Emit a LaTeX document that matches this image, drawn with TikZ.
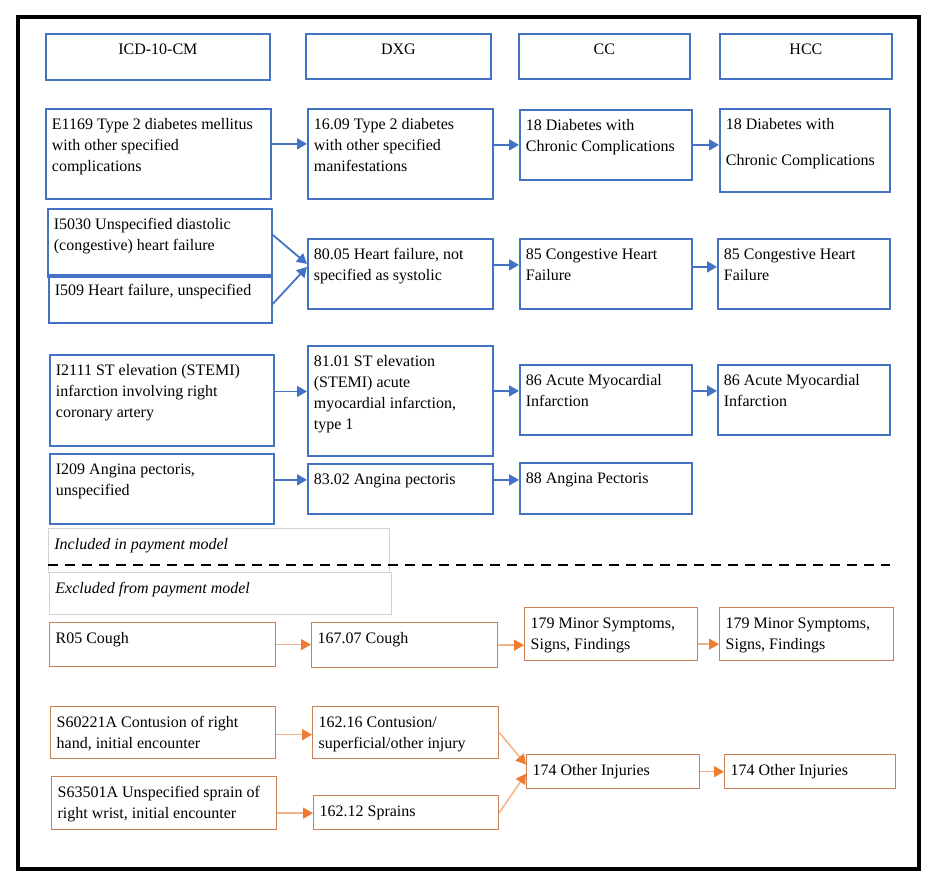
\documentclass[tikz,border=0pt]{standalone}
\usepackage{fontspec}
\setmainfont{Liberation Serif}
\usetikzlibrary{arrows.meta}
\definecolor{cblue}{RGB}{68,114,196}
\definecolor{cbrown}{RGB}{200,128,84}
\definecolor{corange}{RGB}{237,125,49}
\definecolor{clight}{RGB}{244,177,131}
\definecolor{cgray}{RGB}{210,210,210}
\tikzset{
  bbox/.style={draw=cblue,line width=1.8pt},
  obox/.style={draw=cbrown,line width=1.3pt},
  gbox/.style={draw=cgray,line width=0.8pt},
  barrow/.style={cblue,line width=1.8pt,-{Triangle[length=10pt,width=11pt]}},
  oarrow/.style={clight,line width=1.5pt,-{Triangle[length=10pt,width=11pt,color=corange]}}
}
% box: style, name, x, y, width, height, text
\newcommand\cbox[7]{%
  \node[#1,anchor=north west,inner xsep=6pt,inner ysep=6pt] (#2) at (#3,#4)
    {\parbox[c][\dimexpr#6pt-12pt\relax][t]{\dimexpr#5pt-12pt\relax}{\raggedright\strut #7}};}
\begin{document}
\begin{tikzpicture}[x=1pt,y=-1pt,font=\fontsize{16}{21}\selectfont]
  \useasboundingbox (0,0) rectangle (936,886);
  \draw[line width=4pt] (18,17) rectangle (919,869);
  % headers
  \cbox{bbox}{hicd}{45}{33}{224}{46}{\centering ICD-10-CM}
  \cbox{bbox}{hdxg}{305}{33}{185}{45}{\centering DXG}
  \cbox{bbox}{hcc}{518}{33}{171}{45}{\centering CC}
  \cbox{bbox}{hhcc}{719}{33}{172}{45}{\centering HCC}
  % diabetes
  \cbox{bbox}{icda}{45}{108}{225}{90}{E1169 Type 2 diabetes mellitus\\ with other specified\\ complications}
  \cbox{bbox}{dxa}{307}{108}{185}{90}{16.09 Type 2 diabetes\\ with other specified\\ manifestations}
  \cbox{bbox}{cca}{519}{109}{172}{70}{18 Diabetes with\\ Chronic Complications}
  \cbox{bbox}{hcca}{719}{108}{170}{83}{18 Diabetes with\\[15pt] Chronic Complications}
  % heart failure
  \cbox{bbox}{icdb}{47}{208}{224}{68}{I5030 Unspecified diastolic\\ (congestive) heart failure}
  \cbox{bbox}{icdc}{48}{274}{223}{48}{I509 Heart failure, unspecified}
  \cbox{bbox}{dxb}{307}{238}{185}{70}{80.05 Heart failure, not\\ specified as systolic}
  \cbox{bbox}{ccb}{519}{238}{172}{70}{85 Congestive Heart\\ Failure}
  \cbox{bbox}{hccb}{717}{238}{172}{70}{85 Congestive Heart\\ Failure}
  % myocardial infarction
  \cbox{bbox}{icdd}{49}{354}{224}{91}{I2111 ST elevation (STEMI)\\ infarction involving right\\ coronary artery}
  \cbox{bbox}{dxc}{307}{345}{185}{110}{81.01 ST elevation\\ (STEMI) acute\\ myocardial infarction,\\ type 1}
  \cbox{bbox}{ccc}{519}{364}{172}{70}{86 Acute Myocardial\\ Infarction}
  \cbox{bbox}{hccc}{717}{364}{172}{70}{86 Acute Myocardial\\ Infarction}
  % angina
  \cbox{bbox}{icde}{49}{453}{224}{70}{I209 Angina pectoris,\\ unspecified}
  \cbox{bbox}{dxd}{307}{463}{185}{50}{83.02 Angina pectoris}
  \cbox{bbox}{ccd}{519}{462}{172}{51}{88 Angina Pectoris}
  % legend
  \cbox{gbox}{incl}{48}{528}{341}{44}{\itshape Included in payment model}
  \cbox{gbox}{excl}{49}{572}{342}{42}{\itshape Excluded from payment model}
  \coordinate (sepl) at (48,565);
  \coordinate (sepr) at (890,565);
  \draw[line width=2pt,dash pattern=on 10pt off 7pt] (sepl) -- (sepr);
  % cough
  \cbox{obox}{icdf}{49}{622}{226}{44}{R05 Cough}
  \cbox{obox}{dxe}{311}{622}{186}{45}{167.07 Cough}
  \cbox{obox}{cce}{524}{607}{173}{53}{179 Minor Symptoms,\\ Signs, Findings}
  \cbox{obox}{hcce}{719}{607}{174}{53}{179 Minor Symptoms,\\ Signs, Findings}
  % injuries
  \cbox{obox}{icdg}{50}{706}{225}{52}{S60221A Contusion of right\\ hand, initial encounter}
  \cbox{obox}{dxf}{312}{706}{186}{52}{162.16 Contusion/\\ superficial/other injury}
  \cbox{obox}{icdh}{51}{776}{225}{53}{S63501A Unspecified sprain of\\ right wrist, initial encounter}
  \cbox{obox}{dxg}{313}{795}{185}{34}{162.12 Sprains}
  \cbox{obox}{ccf}{526}{754}{173}{34}{174 Other Injuries}
  \cbox{obox}{hccf}{724}{754}{171}{34}{174 Other Injuries}
  % blue connectors
  \draw[barrow] ([yshift=10pt]icda.east) -- ([yshift=10pt]icda.east -| dxa.west);
  \draw[barrow] (dxa.east |- cca.west) -- (cca.west);
  \draw[barrow] (cca.east) -- (cca.east -| hcca.west);
  \draw[barrow] ([yshift=8pt]icdb.east) -- ([yshift=10pt]dxb.west);
  \draw[barrow] ([yshift=-5pt]icdc.east) -- ([yshift=7pt]dxb.west);
  \draw[barrow] ([yshift=9pt]dxb.east) -- ([yshift=9pt]ccb.west);
  \draw[barrow] ([yshift=7pt]ccb.east) -- ([yshift=7pt]hccb.west);
  \draw[barrow] ([yshift=9pt]icdd.east) -- ([yshift=9pt]icdd.east -| dxc.west);
  \draw[barrow] ([yshift=9pt]dxc.east |- ccc.west) -- ([yshift=9pt]ccc.west);
  \draw[barrow] ([yshift=9pt]ccc.east) -- ([yshift=9pt]hccc.west);
  \draw[barrow] ([yshift=9pt]icde.east) -- ([yshift=9pt]icde.east -| dxd.west);
  \draw[barrow] ([yshift=9pt]dxd.east) -- ([yshift=9pt]dxd.east -| ccd.west);
  % orange connectors
  \draw[oarrow] (icdf.east) -- (icdf.east -| dxe.west);
  \draw[oarrow] (dxe.east) -- (dxe.east -| cce.west);
  \draw[oarrow] ([yshift=-10pt]cce.east) -- ([yshift=-10pt]hcce.west);
  \draw[oarrow] ([yshift=-2pt]icdg.east) -- ([yshift=-2pt]icdg.east -| dxf.west);
  \draw[oarrow] ([yshift=-10pt]icdh.east) -- ([yshift=-10pt]icdh.east -| dxg.west);
  \draw[oarrow] (dxf.east) -- ([yshift=7pt]ccf.west);
  \draw[oarrow] (dxg.east) -- ([yshift=-2pt]ccf.west);
  \draw[oarrow] (ccf.east) -- (hccf.west);
\end{tikzpicture}
\end{document}
